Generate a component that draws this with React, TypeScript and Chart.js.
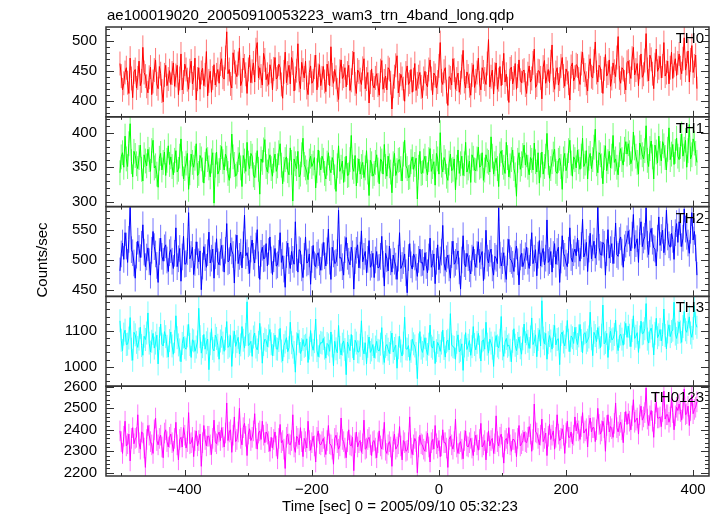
import React, { useEffect, useRef } from "react";
import { Chart, registerables } from "chart.js";
Chart.register(...registerables);

const TITLE = "ae100019020_20050910053223_wam3_trn_4band_long.qdp";
const X_TITLE = "Time [sec] 0 = 2005/09/10 05:32:23";
const Y_TITLE = "Counts/sec";
const PANEL_LABELS = ["TH0", "TH1", "TH2", "TH3", "TH0123"];

// time bins (sec)
const T_START = -502;
const T_STEP = 2;

const TH0 = [
  462,441,418,429,447,455,430,412,471,437,405,448,452,421,438,466,425,433,489,447,441,424,413,439,456,410,432,451,468,428,420,457,445,416,398,443,459,425,436,450,
  427,446,463,424,442,459,410,437,478,418,431,461,452,435,419,450,466,428,438,471,401,436,455,419,447,454,425,443,482,408,433,449,414,438,460,426,443,452,429,461,
  470,439,436,472,515,445,452,428,421,480,465,447,440,462,488,425,433,471,458,444,412,452,476,430,449,463,431,485,497,438,455,441,426,479,468,435,444,427,460,449,
  418,453,472,436,439,461,455,427,404,448,481,430,446,459,428,472,463,416,437,450,495,434,420,464,451,438,466,422,410,447,458,429,433,456,476,418,442,460,425,438,
  457,432,415,461,446,425,490,443,429,452,439,418,402,449,468,437,441,455,423,446,459,417,434,463,481,428,412,451,448,435,427,454,470,420,436,447,396,431,453,426,
  421,438,445,426,409,450,467,419,433,441,418,455,452,430,386,424,440,459,475,413,426,444,437,420,399,446,458,427,431,452,414,435,462,417,428,440,447,423,405,437,
  449,428,423,452,468,437,410,446,442,421,431,458,497,433,427,449,455,415,392,440,438,426,470,451,419,436,446,414,430,457,484,432,421,448,441,425,409,443,460,422,
  433,447,471,429,418,455,448,436,427,462,502,423,440,451,411,444,463,419,435,457,425,446,479,431,444,420,397,453,456,428,438,462,419,441,468,434,430,449,451,426,
  412,445,458,431,437,463,486,422,426,450,449,438,403,456,467,429,441,452,430,465,493,434,419,447,455,426,436,458,472,441,424,453,447,429,401,457,463,433,439,460,
  458,436,427,462,481,451,443,429,416,457,470,440,438,466,498,447,431,459,455,433,412,453,477,441,446,468,424,437,463,449,440,472,507,438,429,455,452,431,418,464,
  466,448,437,471,489,443,451,462,425,456,478,439,444,467,512,452,433,476,469,445,420,460,486,449,455,474,438,458,497,441,447,466,428,455,481,437,459,470,442,463,
  478,455,445,470,505,451,462,483,431,468,492,447,458,476,420,
];

const TH1 = [
  342,365,371,350,395,362,351,384,413,358,336,373,367,355,348,364,382,347,330,368,359,352,376,361,344,374,389,349,352,340,321,363,370,346,357,372,338,360,381,354,
  365,351,339,360,374,343,347,366,391,355,333,348,356,370,318,342,369,357,350,363,384,338,341,367,362,346,327,354,377,361,349,336,359,371,298,353,372,340,345,364,
  380,358,346,369,363,341,331,352,398,365,354,337,340,361,371,349,322,367,359,344,386,356,348,370,366,339,335,353,374,347,311,362,357,375,390,351,343,359,368,348,
  337,360,369,344,352,371,384,353,326,347,361,365,345,339,378,357,301,362,355,348,373,336,340,368,392,354,349,343,332,359,366,351,356,364,320,345,375,356,346,366,
  360,341,333,356,371,348,342,364,357,336,315,352,381,344,350,359,328,347,366,338,339,361,396,350,344,367,323,345,362,340,351,357,335,349,374,343,309,360,355,337,
  341,357,368,346,326,362,359,340,383,351,337,366,352,343,313,355,370,338,345,360,361,348,330,369,389,352,348,335,336,358,365,347,354,363,304,350,373,341,342,359,
  366,348,339,361,377,344,351,358,324,370,362,340,400,353,343,364,358,337,331,356,369,345,347,362,317,350,375,341,355,366,338,355,386,343,349,359,328,368,363,346,
  345,362,379,350,352,371,331,346,368,359,357,343,394,366,340,355,363,348,322,369,374,357,350,341,386,364,336,352,361,375,348,339,308,360,371,347,355,367,382,353,
  368,350,339,364,360,346,385,358,343,371,327,353,372,340,351,366,399,357,334,348,358,369,376,344,341,360,363,351,318,362,370,345,352,374,389,356,337,365,361,349,
  375,358,347,366,392,351,356,374,333,363,370,348,361,379,405,355,342,371,368,352,326,364,381,345,358,373,349,366,396,357,362,350,339,368,377,361,353,376,387,369,
  384,371,355,362,401,378,366,357,340,385,379,368,362,374,410,360,351,377,388,365,333,382,372,356,395,370,359,387,381,364,346,376,407,361,369,383,354,373,392,366,
  361,380,398,366,376,389,350,374,412,362,368,391,385,370,357,
];

const TH2 = [
  482,510,528,501,545,523,496,534,587,517,512,495,470,508,531,519,504,526,558,513,489,505,520,497,475,516,547,522,510,491,463,514,536,506,498,520,525,500,481,512,
  517,498,486,511,553,489,502,519,465,505,539,493,494,514,578,502,509,521,476,496,530,508,497,515,451,490,522,504,488,512,546,495,503,518,470,507,535,497,492,513,
  524,503,480,516,560,497,499,528,515,509,462,520,541,494,506,513,487,525,574,507,512,499,478,518,533,506,495,523,550,492,468,511,521,502,503,527,490,514,538,500,
  476,502,519,490,492,511,545,496,507,485,455,509,528,499,486,514,501,493,563,504,480,517,515,487,471,506,538,495,497,510,460,501,524,492,489,508,512,497,483,505,
  529,507,490,515,551,498,468,521,510,494,496,512,582,503,504,489,475,517,537,506,498,492,521,510,452,499,516,525,487,508,548,497,506,514,479,501,532,488,493,511,
  471,500,514,487,488,506,539,493,457,511,502,482,523,497,480,508,498,490,468,503,545,486,491,499,510,479,446,504,527,492,485,510,505,488,473,501,518,495,496,483,
  512,491,479,505,536,488,494,510,461,498,525,484,500,513,557,495,483,502,508,487,470,509,531,493,496,506,515,482,452,500,540,494,489,511,504,486,477,503,522,496,
  488,509,530,496,507,514,466,490,549,503,495,511,518,487,475,506,503,494,586,508,490,499,512,485,468,513,534,502,499,493,481,510,523,497,459,505,511,489,497,507,
  521,498,486,512,545,494,503,517,474,508,532,490,510,519,492,503,566,496,499,514,480,509,527,493,514,521,463,500,540,511,506,495,489,516,553,504,497,512,518,507,
  536,511,498,524,567,505,512,529,481,518,544,502,520,531,503,514,588,521,509,508,529,526,475,512,550,503,517,527,494,516,561,509,506,532,538,513,488,520,526,535,
  548,528,515,541,575,519,527,535,496,547,563,522,533,539,586,526,509,543,552,531,520,518,490,536,571,524,537,549,512,530,582,538,525,521,544,534,501,545,560,529,
  563,544,522,536,584,551,539,528,511,549,578,533,547,520,475,
];

const TH3 = [
  1128,1074,1045,1091,1102,1062,1063,1080,1137,1049,1018,1096,1089,1068,1054,1077,1110,1059,1032,1085,1076,1094,1150,1066,1041,1071,1093,1052,1066,1088,1008,1079,1119,1063,1058,1098,1084,1057,1027,1073,
  1097,1058,1035,1070,1142,1081,1061,1047,1014,1065,1083,1053,1049,1086,1118,1062,1026,1075,1072,1043,1055,1069,1163,1084,1038,1056,1090,1049,1067,1077,992,1064,1106,1051,1044,1088,1079,1060,1021,1072,
  1085,1066,1043,1078,1126,1054,1058,1087,1001,1069,1099,1057,1070,1082,1036,1061,1112,1074,1052,1090,1181,1059,1063,1071,1029,1083,1094,1055,1047,1068,1121,1080,1010,1062,1077,1073,1056,1086,1104,1064,
  1031,1062,1088,1050,1049,1073,1107,1044,1016,1059,1069,1081,1042,1053,1124,1067,1055,1040,985,1064,1093,1071,1037,1048,1076,1057,1060,1078,1012,1052,1101,1061,1046,1070,1133,1045,1028,1058,1068,1066,
  1079,1052,1024,1065,1061,1043,1097,1058,1003,1071,1050,1039,1115,1054,1033,1063,1072,1048,978,1069,1057,1045,1090,1056,1019,1074,1066,1042,1041,1060,1128,1051,1036,1067,1008,1057,1083,1040,1047,1062,
  1025,1055,1071,1046,1044,1063,1109,1038,1012,1057,1062,1049,1037,1068,1094,1041,1051,1060,996,1053,1085,1044,1030,1066,1138,1050,1049,1059,1018,1043,1077,1064,1058,1037,967,1061,1098,1052,1040,1058,
  1081,1049,1034,1063,1116,1057,1052,1072,1009,1045,1068,1059,1043,1066,1102,1051,1027,1070,1074,1047,1148,1061,1056,1054,1021,1068,1089,1042,1046,1064,990,1058,1095,1048,1060,1073,1032,1056,1112,1062,
  1047,1068,1093,1055,1016,1072,1075,1049,1124,1063,1038,1077,1066,1052,1001,1066,1087,1058,1053,1074,1140,1050,1029,1069,1079,1057,1061,1046,1014,1071,1106,1060,1045,1065,1083,1053,1035,1078,1119,1067,
  1092,1071,1051,1083,1136,1062,1070,1089,1028,1076,1103,1058,1184,1080,1064,1093,1021,1067,1087,1072,1049,1085,1115,1061,1076,1078,1006,1090,1097,1069,1058,1082,1129,1074,1042,1086,1081,1065,1110,1079,
  1062,1086,1118,1073,1039,1092,1095,1067,1074,1083,1152,1078,1031,1096,1087,1070,1109,1081,1053,1088,1172,1064,1068,1093,1026,1079,1099,1075,1078,1090,1130,1068,1045,1085,1091,1077,1060,1094,1121,1082,
  1113,1088,1056,1101,1142,1079,1085,1095,1040,1083,1127,1092,1094,1106,1176,1077,1066,1099,1108,1086,1033,1093,1135,1081,1089,1104,1072,1090,1161,1087,1050,1097,1117,1084,1098,1102,1180,1091,1079,1096,
  1125,1097,1068,1112,1154,1103,1096,1118,1139,1094,1082,1107,1170,1121,1110,
];

const TH0123 = [
  2395,2345,2290,2370,2440,2325,2335,2380,2255,2360,2410,2335,2360,2365,2470,2340,2310,2390,2385,2315,2225,2355,2420,2375,2345,2330,2290,2400,2455,2350,2330,2360,2375,2320,2270,2385,2400,2345,2320,2365,
  2380,2340,2300,2360,2435,2330,2260,2355,2365,2320,2410,2375,2315,2345,2480,2335,2340,2365,2275,2350,2395,2325,2350,2380,2230,2340,2420,2355,2325,2370,2370,2330,2285,2360,2445,2345,2335,2375,2390,2350,
  2410,2365,2320,2385,2525,2350,2390,2400,2295,2375,2460,2345,2355,2390,2500,2360,2330,2410,2430,2370,2280,2380,2405,2350,2365,2395,2475,2360,2310,2385,2395,2355,2440,2375,2340,2390,2380,2345,2300,2365,
  2315,2355,2390,2325,2265,2360,2425,2340,2350,2310,2220,2365,2380,2335,2330,2350,2470,2320,2295,2370,2360,2330,2410,2345,2275,2360,2345,2315,2440,2350,2305,2340,2370,2325,2250,2365,2395,2335,2330,2345,
  2360,2320,2285,2350,2420,2335,2330,2310,2240,2360,2375,2340,2310,2325,2455,2355,2345,2315,2270,2345,2400,2330,2325,2365,2210,2340,2390,2320,2340,2350,2295,2335,2445,2310,2315,2355,2365,2330,2280,2345,
  2350,2315,2270,2340,2395,2325,2310,2355,2435,2305,2290,2330,2345,2320,2230,2345,2380,2310,2320,2335,2415,2325,2260,2350,2340,2300,2305,2340,2460,2315,2285,2330,2360,2345,2200,2320,2375,2335,2330,2310,
  2300,2345,2385,2320,2250,2340,2355,2310,2420,2335,2315,2350,2275,2325,2400,2340,2340,2315,2225,2355,2370,2330,2310,2345,2450,2320,2290,2335,2345,2310,2265,2350,2395,2325,2320,2340,2360,2315,2280,2345,
  2375,2330,2305,2355,2430,2320,2330,2350,2260,2340,2395,2325,2350,2360,2290,2335,2465,2345,2325,2365,2380,2320,2245,2350,2360,2335,2410,2330,2300,2355,2355,2340,2275,2360,2420,2325,2335,2350,2390,2345,
  2340,2365,2415,2380,2300,2355,2520,2390,2385,2360,2330,2375,2450,2345,2360,2385,2280,2370,2425,2355,2375,2395,2310,2365,2470,2380,2350,2360,2405,2375,2290,2385,2440,2365,2365,2390,2335,2375,2460,2395,
  2430,2395,2355,2415,2480,2385,2395,2405,2320,2420,2455,2390,2410,2410,2345,2400,2500,2425,2380,2395,2440,2410,2300,2420,2470,2390,2415,2405,2365,2430,2525,2410,2390,2420,2435,2400,2340,2435,2485,2425,
  2475,2440,2400,2465,2540,2435,2445,2455,2380,2470,2510,2445,2460,2480,2595,2450,2420,2465,2490,2440,2365,2475,2530,2455,2455,2460,2415,2485,2580,2450,2470,2470,2435,2460,2550,2480,2400,2465,2505,2490,
  2520,2485,2445,2500,2590,2470,2475,2510,2420,2490,2560,2475,2495,2505,2530,
];

const SERIES = [TH0, TH1, TH2, TH3, TH0123];
const ERRORS = [20, 18, 22, 32, 48];

const Y_MIN = [373, 293, 440, 946, 2185];
const Y_MAX = [523, 423, 588, 1196, 2603];
const Y_MAJOR = [50, 50, 50, 100, 100];
const Y_MINOR = [10, 10, 10, 20, 20];
const X_MIN = -524;
const X_MAX = 425;
const X_MAJOR = 200;
const X_MINOR = 100;

const COLORS = ["#ff0000", "#00ff00", "#0000ff", "#00ffff", "#ff00ff"];
const ERR_COLORS = [
  "rgba(255,0,0,0.55)",
  "rgba(0,255,0,0.55)",
  "rgba(0,0,255,0.55)",
  "rgba(0,255,255,0.55)",
  "rgba(255,0,255,0.55)",
];

const FONT = "'Liberation Sans', Arial, Helvetica, sans-serif";
const FRAME = "#333333";

const times = SERIES[0].map((_, i) => T_START + i * T_STEP);

const errorBarPlugin = {
  id: "errorBars",
  beforeDatasetsDraw(chart: any) {
    const ctx = chart.ctx;
    const xs = chart.scales.x;
    const area = chart.chartArea;
    SERIES.forEach((vals, k) => {
      const ys = chart.scales["y" + k];
      ctx.save();
      ctx.beginPath();
      ctx.rect(area.left, ys.top, area.right - area.left, ys.bottom - ys.top);
      ctx.clip();
      ctx.strokeStyle = ERR_COLORS[k];
      ctx.lineWidth = 1;
      vals.forEach((v, i) => {
        const px = xs.getPixelForValue(times[i]);
        ctx.beginPath();
        ctx.moveTo(px, ys.getPixelForValue(v - ERRORS[k]));
        ctx.lineTo(px, ys.getPixelForValue(v + ERRORS[k]));
        ctx.stroke();
      });
      ctx.restore();
    });
  },
};

const framePlugin = {
  id: "frames",
  afterDraw(chart: any) {
    const ctx = chart.ctx;
    const xs = chart.scales.x;
    const area = chart.chartArea;
    const L = area.left;
    const R = area.right;
    ctx.save();
    ctx.strokeStyle = FRAME;
    ctx.lineWidth = 1;
    SERIES.forEach((_, k) => {
      const ys = chart.scales["y" + k];
      const T = ys.top;
      const B = ys.bottom;
      ctx.beginPath();
      const start = Math.ceil(Y_MIN[k] / Y_MINOR[k]) * Y_MINOR[k];
      for (let v = start; v <= Y_MAX[k]; v += Y_MINOR[k]) {
        const py = Math.round(ys.getPixelForValue(v)) + 0.5;
        const len = v % Y_MAJOR[k] === 0 ? 8 : 4;
        ctx.moveTo(L, py);
        ctx.lineTo(L + len, py);
        ctx.moveTo(R, py);
        ctx.lineTo(R - len, py);
      }
      const xs0 = Math.ceil(X_MIN / X_MINOR) * X_MINOR;
      for (let v = xs0; v <= X_MAX; v += X_MINOR) {
        const px = Math.round(xs.getPixelForValue(v)) + 0.5;
        const len = v % X_MAJOR === 0 ? 6 : 3;
        ctx.moveTo(px, T);
        ctx.lineTo(px, T + len);
        ctx.moveTo(px, B);
        ctx.lineTo(px, B - len);
      }
      ctx.stroke();
    });
    ctx.lineWidth = 1.5;
    SERIES.forEach((_, k) => {
      const ys = chart.scales["y" + k];
      ctx.strokeRect(L, ys.top, R - L, ys.bottom - ys.top);
    });
    ctx.restore();

    ctx.save();
    ctx.fillStyle = "#000";
    ctx.font = "15px " + FONT;
    ctx.textBaseline = "alphabetic";
    ctx.textAlign = "left";
    ctx.fillText(TITLE, L + 1, 19.5);
    ctx.textAlign = "right";
    PANEL_LABELS.forEach((lab, k) => {
      const ys = chart.scales["y" + k];
      ctx.fillText(lab, R - 5, ys.top + 16);
    });
    ctx.textAlign = "center";
    ctx.fillText(X_TITLE, 400, 510.5);
    ctx.translate(47, 260);
    ctx.rotate(-Math.PI / 2);
    ctx.fillText(Y_TITLE, 0, 0);
    ctx.restore();
  },
};

export default function App() {
  const ref = useRef<HTMLCanvasElement | null>(null);
  useEffect(() => {
    if (!ref.current) return;
    const yScales: any = {};
    SERIES.forEach((_, k) => {
      yScales["y" + k] = {
        type: "linear",
        position: "left",
        stack: "panels",
        stackWeight: 1,
        weight: 5 - k,
        min: Y_MIN[k],
        max: Y_MAX[k],
        grid: { display: false, drawTicks: false },
        border: { display: false },
        ticks: {
          padding: 9,
          autoSkip: false,
          color: "#000",
          font: { family: FONT, size: 15 },
          callback: (v: any) => String(v),
        },
        afterBuildTicks: (s: any) => {
          const t: any[] = [];
          for (let v = Math.ceil(Y_MIN[k] / Y_MAJOR[k]) * Y_MAJOR[k]; v <= Y_MAX[k]; v += Y_MAJOR[k]) {
            t.push({ value: v });
          }
          s.ticks = t;
        },
        afterFit: (s: any) => {
          s.width = 106;
        },
      };
    });
    const chart = new Chart(ref.current, {
      type: "line",
      data: {
        datasets: SERIES.map((vals, k) => ({
          label: PANEL_LABELS[k],
          data: vals.map((v, i) => ({ x: times[i], y: v })),
          yAxisID: "y" + k,
          xAxisID: "x",
          borderColor: COLORS[k],
          backgroundColor: COLORS[k],
          borderWidth: 1,
          pointRadius: 0,
          tension: 0,
          fill: false,
        })),
      },
      options: {
        responsive: false,
        animation: false,
        layout: { padding: { left: 0, right: 9, top: 27, bottom: 0 } },
        plugins: {
          legend: { display: false },
          tooltip: { enabled: false },
          title: { display: false },
        },
        scales: {
          x: {
            type: "linear",
            position: "bottom",
            min: X_MIN,
            max: X_MAX,
            grid: { display: false, drawTicks: false },
            border: { display: false },
            ticks: {
              padding: 5,
              maxRotation: 0,
              autoSkip: false,
              color: "#000",
              font: { family: FONT, size: 15 },
              callback: (v: any) => (Number(v) < 0 ? "\u2212" + Math.abs(Number(v)) : String(v)),
            },
            afterBuildTicks: (s: any) => {
              const t: any[] = [];
              for (let v = Math.ceil(X_MIN / X_MAJOR) * X_MAJOR; v <= X_MAX; v += X_MAJOR) {
                t.push({ value: v });
              }
              s.ticks = t;
            },
            afterFit: (s: any) => {
              s.height = 40;
            },
          },
          ...yScales,
        },
      } as any,
      plugins: [errorBarPlugin, framePlugin],
    });
    return () => chart.destroy();
  }, []);
  return (
    <div style={{ position: "fixed", left: 0, top: 0, width: 718, height: 516, background: "#fff" }}>
      <canvas ref={ref} width={718} height={516} style={{ display: "block" }} />
    </div>
  );
}
